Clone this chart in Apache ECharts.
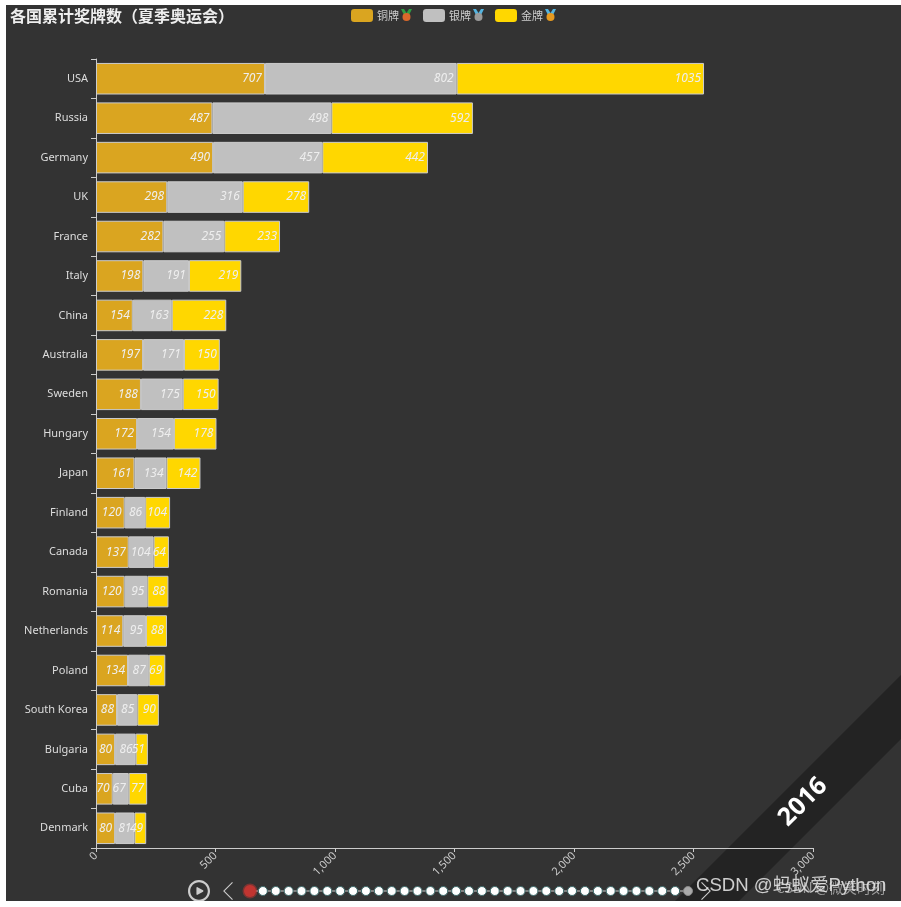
<!DOCTYPE html>
<html><head><meta charset="utf-8">
<style>html,body{margin:0;padding:0;background:#fff;width:901px;height:907px;overflow:hidden}
#bg{position:absolute;left:6px;top:5px;width:895px;height:896px;background:#333}
#c{position:absolute;left:0;top:0;width:901px;height:901px}</style>
<script src="https://cdn.jsdelivr.net/npm/echarts@6/dist/echarts.min.js"></script>
</head><body><div id="bg"></div><div id="c"></div>
<script>
const countries=['USA','Russia','Germany','UK','France','Italy','China','Australia','Sweden','Hungary','Japan','Finland','Canada','Romania','Netherlands','Poland','South Korea','Bulgaria','Cuba','Denmark'];
const bronze=[707,487,490,298,282,198,154,197,188,172,161,120,137,120,114,134,88,80,70,80];
const silver=[802,498,457,316,255,191,163,171,175,154,134,86,104,95,95,87,85,86,67,81];
const gold=[1035,592,442,278,233,219,228,150,150,178,142,104,64,88,88,69,90,51,77,49];
const years=['2016','2012','2008','2004','2000','1996','1992','1988','1984','1980','1976','1972','1968','1964','1960','1956','1952','1948','1944','1940','1936','1932','1928','1924','1920','1916','1912','1908','1904','1900','1896','1892','1888','1884','1880'];
const FONT='"Noto Sans","Noto Sans CJK SC",sans-serif';
const cBronze='#DAA520',cSilver='#C0C0C0',cGold='#FFD700';
const PREV='path://M10 0L0 10L10 20L10.9 19.2L1.7 10L10.9 0.8Z';
const NEXT='path://M0.9 0L10.9 10L0.9 20L0 19.2L9.2 10L0 0.8Z';
function medal(x,ribbon,disc){return [
 {type:'polygon',silent:true,z:10,shape:{points:[[x,9],[x+3,9],[x+5.5,13],[x+8,9],[x+11,9],[x+7.5,16],[x+3.5,16]]},style:{fill:ribbon}},
 {type:'circle',silent:true,z:11,shape:{cx:x+5.5,cy:17,r:4},style:{fill:disc}}];}
function bar(name,data,color){return {name,type:'bar',stack:'total',data,barCategoryGap:'20%',
 itemStyle:{color,borderColor:'#ccc',borderWidth:1},
 label:{show:true,position:'insideRight',color:'#eee',fontStyle:'italic',fontSize:12,fontFamily:FONT,distance:3}};}
const option={baseOption:{
 animation:false,backgroundColor:'transparent',
 timeline:{axisType:'category',autoPlay:false,currentIndex:0,data:years.map((y,i)=>i===years.length-1?{value:y,itemStyle:{color:'#aaa',borderColor:'#888'}}:y),
  left:188,right:182,top:880,height:22,padding:0,symbol:'circle',symbolSize:9,
  label:{show:false},
  lineStyle:{color:'#ccc',width:1},
  itemStyle:{color:'#fff',borderColor:'#3c6a6a',borderWidth:1},
  checkpointStyle:{color:'#c23531',borderColor:'rgba(194,53,49,0.5)',borderWidth:3,symbolSize:12,animation:false},
  controlStyle:{showPlayBtn:true,showPrevBtn:true,showNextBtn:true,itemSize:22,itemGap:9,color:'#ccc',borderColor:'#ccc',borderWidth:0,prevIcon:PREV,nextIcon:NEXT},
  progress:{lineStyle:{color:'#ccc'},itemStyle:{color:'#fff'}}
 },
 title:{text:'各国累计奖牌数（夏季奥运会）',left:10,top:8,padding:0,textStyle:{color:'#eee',fontSize:16,fontWeight:'bold',fontFamily:'"Noto Sans CJK SC",sans-serif'}},
 legend:{left:351,top:9,padding:0,icon:'roundRect',itemWidth:22,itemHeight:13,itemGap:24,data:['铜牌','银牌','金牌'],textStyle:{color:'#ccc',fontSize:11,padding:[0,0,0,-1],fontFamily:'"Noto Sans CJK SC",sans-serif'},itemStyle:{borderWidth:0}},
 grid:{left:96,top:59,width:717,height:789,containLabel:false},
 xAxis:{type:'value',min:0,max:3000,interval:500,splitLine:{show:false},
  axisLine:{show:true,lineStyle:{color:'#ccc'}},axisTick:{show:true,length:4,lineStyle:{color:'#ccc'}},
  axisLabel:{rotate:45,color:'#ccc',fontSize:11,margin:6,fontFamily:FONT,formatter:v=>v.toLocaleString('en-US')}},
 yAxis:{type:'category',inverse:true,data:countries,
  axisLine:{show:true,lineStyle:{color:'#ccc'}},axisTick:{show:true,length:5,lineStyle:{color:'#ccc'}},
  axisLabel:{color:'#ddd',fontSize:11,margin:8,fontFamily:FONT}},
 graphic:[
  {type:'polygon',silent:true,z:-1,shape:{points:[[675,901],[901,675],[901,739],[739,901]]},style:{fill:'#232323'}},
  {type:'text',silent:true,z:5,x:803,y:802,rotation:Math.PI/4,style:{text:years[0],fill:'#fff',font:'bold 25px "Noto Sans",sans-serif',align:'center',verticalAlign:'middle'}},
  ...medal(401,'#2f9e44','#d9682b'),...medal(473,'#55b4e0','#9a9a9a'),...medal(545,'#55b4e0','#e69a20'),
  {type:'text',silent:true,z:21,x:885,y:888,style:{text:'CSDN @微笑时刻',fill:'rgba(200,200,200,0.7)',font:'14px "Noto Sans CJK SC",sans-serif',align:'right',verticalAlign:'middle'}},
  {type:'text',silent:true,z:22,x:696,y:886,style:{text:'CSDN @蚂蚁爱Python',fill:'rgba(235,235,235,0.85)',font:'18.6px "Liberation Sans","Noto Sans CJK SC",sans-serif',align:'left',verticalAlign:'middle'}}
 ]},
 options:[{series:[bar('铜牌',bronze,cBronze),bar('银牌',silver,cSilver),bar('金牌',gold,cGold)]}]
};
echarts.init(document.getElementById('c')).setOption(option);
</script></body></html>
